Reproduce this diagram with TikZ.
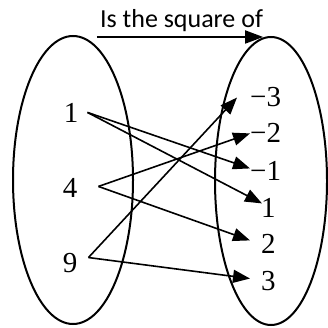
\documentclass[tikz,border=0pt]{standalone}
\usepackage{fontspec}
\setmainfont{Liberation Serif}
\newfontfamily\titlefont{Carlito}
\usetikzlibrary{arrows.meta,calc,shapes.geometric}
\begin{document}
\begin{tikzpicture}[x=1pt,y=-1pt,
  num/.style={inner sep=0pt, font=\fontsize{29}{29}\selectfont},
  conn/.style={line width=1.6pt, -{Triangle[length=17pt,width=13pt]}},
  setbox/.style={draw, ellipse, line width=2pt, inner sep=0pt},
  titletext/.style={inner sep=0pt, font=\titlefont\fontsize{26}{26}\selectfont}]
\useasboundingbox (0,0) rectangle (327,328);
% sets
\node[setbox, minimum width=120pt, minimum height=288pt] (A) at (73,180) {};
\node[setbox, minimum width=112pt, minimum height=288pt] (B) at (271,181) {};
% title
\node[titletext, anchor=base] (T) at (181.5,28) {Is the square of};
\draw[line width=1.8pt, -{Triangle[length=18pt,width=13pt]}]
  ($(T.base west)+(-3,9)$) -- ($(T.base east)+(0,9)$);
% left elements
\node[num, anchor=base] (L1) at (71,123) {1};
\node[num, anchor=base] (L4) at (70,197) {4};
\node[num, anchor=base] (L9) at (70,272) {9};
% right elements
\node[num, anchor=base west] (Rm3) at (250,107) {−3};
\node[num, anchor=base west] (Rm2) at (250,143) {−2};
\node[num, anchor=base west] (Rm1) at (250,180) {−1};
\node[num, anchor=base west] (R1) at (261,217) {1};
\node[num, anchor=base west] (R2) at (261,253) {2};
\node[num, anchor=base west] (R3) at (261,290) {3};
% connectors
\draw[conn] ($(L1.east)+(9,-1)$) -- ($(Rm1.west)+(0,-2)$);
\draw[conn] ($(L1.east)+(9,-1)$) -- ($(R1.west)+(1,-4)$);
\draw[conn] ($(L4.east)+(21,-1)$) -- ($(Rm2.west)+(0,0)$);
\draw[conn] ($(L4.east)+(21,-1)$) -- ($(R2.west)+(-11,-3)$);
\draw[conn] ($(L9.east)+(11,-5)$) -- ($(Rm3.west)+(-13,0)$);
\draw[conn] ($(L9.east)+(11,-5)$) -- ($(R3.west)+(-11,-2)$);
\end{tikzpicture}
\end{document}
